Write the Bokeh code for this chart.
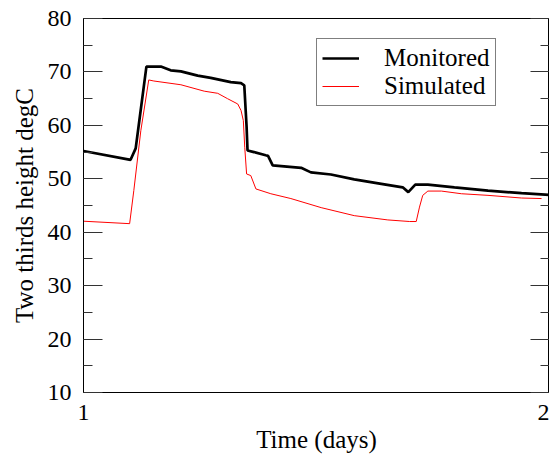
from bokeh.plotting import figure
from bokeh.models import (LinearAxis, SingleIntervalTicker, FixedTicker, Range1d,
                          Legend, LegendItem, CustomJSTickFormatter)
from bokeh.embed import file_html
from bokeh.resources import INLINE

# Monitored series (time in days, temperature degC)
t_mon = [1.000, 1.101, 1.112, 1.120, 1.135, 1.166, 1.187, 1.209, 1.245, 1.273,
         1.316, 1.338, 1.345, 1.350, 1.352, 1.366, 1.391, 1.396, 1.406, 1.467,
         1.488, 1.531, 1.581, 1.639, 1.685, 1.697, 1.712, 1.739, 1.796, 1.868,
         1.940, 2.000]
temp_mon = [55.2, 53.55, 55.7, 61.0, 71.0, 71.0, 70.3, 70.1, 69.3, 68.9,
            68.1, 67.9, 67.5, 59.7, 55.3, 55.0, 54.4, 54.3, 52.5, 52.05,
            51.2, 50.8, 49.9, 49.06, 48.4, 47.5, 48.9, 48.9, 48.4, 47.8,
            47.3, 47.0]

# Simulated series
t_sim = [1.000, 1.099, 1.108, 1.123, 1.140, 1.151, 1.209, 1.259, 1.288, 1.309,
         1.331, 1.338, 1.343, 1.346, 1.350, 1.359, 1.370, 1.402, 1.445, 1.510,
         1.581, 1.653, 1.700, 1.714, 1.721, 1.728, 1.739, 1.768, 1.811, 1.868,
         1.940, 1.983]
temp_sim = [42.06, 41.6, 47.8, 59.0, 68.5, 68.3, 67.6, 66.4, 66.0, 65.0,
            64.0, 62.8, 60.9, 55.9, 50.9, 50.6, 48.1, 47.2, 46.3, 44.6,
            43.1, 42.3, 42.0, 42.0, 44.7, 46.9, 47.7, 47.7, 47.2, 46.9,
            46.4, 46.3]

x_ticks = [1, 2]
y_min, y_max = 10, 80
series_names = ["Monitored", "Simulated"]

FONT = "Liberation Serif"

p = figure(width=549, height=455, output_backend="svg", toolbar_location=None,
           x_range=Range1d(1, 2), y_range=Range1d(y_min, y_max),
           x_axis_label="Time (days)", y_axis_label="Two thirds height degC",
           min_border_left=83, min_border_top=18, min_border_right=0,
           min_border_bottom=63)
p.xgrid.visible = False
p.ygrid.visible = False
p.outline_line_color = "black"
p.outline_line_width = 1
p.background_fill_color = "white"
p.border_fill_color = "white"

# x axis
xa = p.xaxis[0]
xa.ticker = FixedTicker(ticks=x_ticks)
xa.major_tick_in = 0
xa.major_tick_out = 0
xa.minor_tick_in = 0
xa.minor_tick_out = 0
xa.major_label_standoff = 12
xa.axis_label_standoff = 3
xa.major_label_text_font = FONT
xa.major_label_text_font_size = "24px"
xa.axis_label_text_font = FONT
xa.axis_label_text_font_size = "25px"
xa.axis_label_text_font_style = "normal"
xa.axis_line_color = "black"
xa.major_label_text_color = "black"
xa.axis_label_text_color = "black"

# y axis
ya = p.yaxis[0]
ya.ticker = SingleIntervalTicker(interval=10, num_minor_ticks=2)
ya.major_tick_in = 19
ya.major_tick_out = 0
ya.minor_tick_in = 9
ya.minor_tick_out = 0
ya.major_label_standoff = 12
ya.axis_label_standoff = 7
ya.major_label_text_font = FONT
ya.major_label_text_font_size = "24px"
ya.axis_label_text_font = FONT
ya.axis_label_text_font_size = "25px"
ya.axis_label_text_font_style = "normal"
ya.axis_line_color = "black"
ya.major_tick_line_color = "#333333"
ya.minor_tick_line_color = "#333333"
ya.major_label_text_color = "black"
ya.axis_label_text_color = "black"

# right axis: ticks only
ra = LinearAxis(ticker=SingleIntervalTicker(interval=10, num_minor_ticks=2),
                formatter=CustomJSTickFormatter(code="return '';"))
ra.major_tick_in = 19
ra.major_tick_out = 0
ra.minor_tick_in = 9
ra.minor_tick_out = 0
ra.major_label_standoff = 0
ra.axis_line_color = "black"
ra.major_tick_line_color = "#333333"
ra.minor_tick_line_color = "#333333"
p.add_layout(ra, "right")

r_mon = p.line(t_mon, temp_mon, line_color="black", line_width=2.7)
r_sim = p.line(t_sim, temp_sim, line_color="#ff0000", line_width=1)

legend = Legend(items=[LegendItem(label=series_names[0], renderers=[r_mon]),
                       LegendItem(label=series_names[1], renderers=[r_sim])],
                location=(233, 286))
legend.label_text_font = FONT
legend.label_text_font_size = "25px"
legend.label_text_color = "black"
legend.border_line_color = "black"
legend.border_line_width = 1
legend.background_fill_color = "white"
legend.background_fill_alpha = 1
legend.padding = 5
legend.spacing = 0
legend.margin = 0
legend.glyph_width = 37
legend.label_standoff = 25
legend.label_height = 28
legend.glyph_height = 28
p.add_layout(legend, "center")

open("out.html", "w").write(file_html(p, INLINE))
